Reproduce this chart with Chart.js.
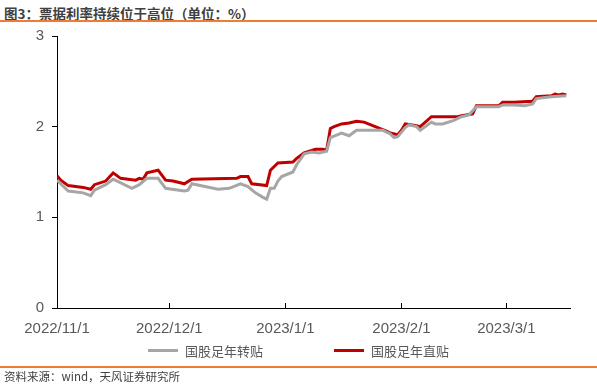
<!DOCTYPE html>
<html>
<head>
<meta charset="utf-8">
<script src="https://cdn.jsdelivr.net/npm/chart.js@4.4.1/dist/chart.umd.min.js"></script>
<style>
  html, body { margin: 0; padding: 0; background: #fff; }
  #wrap { position: relative; width: 597px; height: 387px; overflow: hidden; }
  #chart { position: absolute; left: 0; top: 0; }
  .title {
    position: absolute; left: 4px; top: 3px;
    font: bold 13.5px "Noto Sans CJK SC", sans-serif; color: #404040;
  }
  .rule { position: absolute; left: 0; width: 597px; height: 1.5px; background: #ED7D31; }
  .source {
    position: absolute; left: 4px; top: 368px;
    font: 11.5px "Noto Sans CJK SC", sans-serif; color: #404040;
  }
  .legend {
    position: absolute; top: 341px; font: 13px "Noto Sans CJK SC", sans-serif; color: #595959;
    display: flex; align-items: center;
  }
  .legend i { display: inline-block; width: 30px; height: 3px; margin-right: 7px; }
</style>
</head>
<body>
<div id="wrap">
  <div class="title">图3：票据利率持续位于高位（单位：%）</div>
  <div class="rule" style="top:20px"></div>
  <canvas id="chart" width="597" height="387"></canvas>
  <div class="legend" style="left:148px"><i style="background:#A6A6A6"></i>国股足年转贴</div>
  <div class="legend" style="left:334px"><i style="background:#C00000"></i>国股足年直贴</div>
  <div class="rule" style="top:366px"></div>
  <div class="source">资料来源：wind，天风证券研究所</div>
</div>
<script>
// ---- data ----
const xTickLabels = ['2022/11/1', '2022/12/1', '2023/1/1', '2023/2/1', '2023/3/1'];
const yTicks = [0, 1, 2, 3];

const zhuanDates = [
  '2022/11/1', '2022/11/4', '2022/11/8', '2022/11/10', '2022/11/11', '2022/11/14', '2022/11/16',
  '2022/11/21', '2022/11/23', '2022/11/25', '2022/11/28', '2022/11/30', '2022/12/5', '2022/12/6',
  '2022/12/7', '2022/12/14', '2022/12/17', '2022/12/20', '2022/12/22', '2022/12/24', '2022/12/26',
  '2022/12/27', '2022/12/28', '2022/12/29', '2022/12/30', '2022/12/31', '2023/1/3', '2023/1/4',
  '2023/1/6', '2023/1/8', '2023/1/10', '2023/1/12', '2023/1/13', '2023/1/16', '2023/1/18',
  '2023/1/20', '2023/1/27', '2023/1/29', '2023/1/30', '2023/1/31', '2023/2/2', '2023/2/3',
  '2023/2/5', '2023/2/6', '2023/2/9', '2023/2/10', '2023/2/12', '2023/2/15', '2023/2/17',
  '2023/2/19', '2023/2/21', '2023/2/27', '2023/2/28', '2023/3/3', '2023/3/6', '2023/3/8',
  '2023/3/9', '2023/3/13', '2023/3/17'
];
const zhuanValues = [
  1.41, 1.29, 1.27, 1.24, 1.30, 1.36, 1.42,
  1.32, 1.36, 1.43, 1.43, 1.32, 1.29, 1.30,
  1.37, 1.31, 1.32, 1.37, 1.34, 1.27, 1.22,
  1.20, 1.32, 1.32, 1.40, 1.45, 1.50, 1.58,
  1.70, 1.72, 1.71, 1.73, 1.88, 1.93, 1.90,
  1.96, 1.96, 1.92, 1.88, 1.89, 1.99, 2.02,
  2.00, 1.96, 2.05, 2.03, 2.03, 2.07, 2.11,
  2.13, 2.22, 2.22, 2.24, 2.24, 2.23, 2.25,
  2.31, 2.33, 2.34
];

const zhiDates = [
  '2022/11/1', '2022/11/2', '2022/11/4', '2022/11/8', '2022/11/10', '2022/11/11', '2022/11/14',
  '2022/11/16', '2022/11/18', '2022/11/22', '2022/11/23', '2022/11/24', '2022/11/25', '2022/11/28',
  '2022/11/30', '2022/12/2', '2022/12/5', '2022/12/7', '2022/12/19', '2022/12/20', '2022/12/22',
  '2022/12/23', '2022/12/27', '2022/12/28', '2022/12/30', '2023/1/3', '2023/1/4', '2023/1/6',
  '2023/1/9', '2023/1/11', '2023/1/12', '2023/1/13', '2023/1/14', '2023/1/16', '2023/1/18',
  '2023/1/20', '2023/1/22', '2023/1/28', '2023/1/29', '2023/1/31', '2023/2/1', '2023/2/2',
  '2023/2/5', '2023/2/6', '2023/2/9', '2023/2/16', '2023/2/17', '2023/2/20', '2023/2/21',
  '2023/2/27', '2023/2/28', '2023/3/3', '2023/3/8', '2023/3/9', '2023/3/13', '2023/3/14',
  '2023/3/15', '2023/3/16', '2023/3/17'
];
const zhiValues = [
  1.46, 1.41, 1.35, 1.33, 1.31, 1.36, 1.40,
  1.49, 1.43, 1.41, 1.43, 1.42, 1.49, 1.52,
  1.41, 1.40, 1.37, 1.42, 1.43, 1.45, 1.45,
  1.37, 1.35, 1.52, 1.60, 1.61, 1.65, 1.71,
  1.75, 1.75, 1.74, 1.98, 2.00, 2.03, 2.04,
  2.06, 2.05, 1.95, 1.93, 1.91, 1.96, 2.03,
  2.01, 2.00, 2.11, 2.11, 2.12, 2.14, 2.23,
  2.23, 2.27, 2.27, 2.28, 2.33, 2.34, 2.36,
  2.35, 2.36, 2.35
];

// ---- helpers ----
const startDay = Date.UTC(2022, 10, 1);
const dayOf = (s) => {
  const [y, m, d] = s.split('/').map(Number);
  return (Date.UTC(y, m - 1, d) - startDay) / 86400000;
};
const toPoints = (dates, vals) => dates.map((d, i) => ({ x: dayOf(d), y: vals[i] }));
const xTickValues = xTickLabels.map(dayOf);

const textColor = '#595959';
const tickFont = { family: 'Liberation Sans, Arial, sans-serif', size: 15 };

// x ticks are drawn pointing up into the plot
const innerTicks = {
  id: 'innerTicks',
  afterDraw(chart) {
    const { ctx, chartArea } = chart;
    const xs = chart.scales.x;
    ctx.save();
    ctx.strokeStyle = '#000';
    ctx.lineWidth = 1;
    xTickValues.forEach(v => {
      const px = Math.round(xs.getPixelForValue(v)) + 0.5;
      ctx.beginPath();
      ctx.moveTo(px, chartArea.bottom);
      ctx.lineTo(px, chartArea.bottom - 5);
      ctx.stroke();
    });
    ctx.restore();
  }
};

new Chart(document.getElementById('chart').getContext('2d'), {
  type: 'line',
  data: {
    datasets: [
      {
        label: '国股足年转贴',
        data: toPoints(zhuanDates, zhuanValues),
        borderColor: '#A6A6A6',
        borderWidth: 3,
        pointRadius: 0,
        tension: 0,
      },
      {
        label: '国股足年直贴',
        data: toPoints(zhiDates, zhiValues),
        borderColor: '#C00000',
        borderWidth: 3,
        pointRadius: 0,
        tension: 0,
      }
    ]
  },
  options: {
    responsive: false,
    animation: false,
    layout: { padding: { left: 0, right: 27, top: 36, bottom: 45 } },
    plugins: { legend: { display: false }, tooltip: { enabled: false } },
    scales: {
      x: {
        type: 'linear',
        min: 0,
        max: 137,
        afterBuildTicks: (scale) => { scale.ticks = xTickValues.map(v => ({ value: v })); },
        afterFit: (scale) => { scale.height = 34; },
        ticks: {
          autoSkip: false,
          maxRotation: 0,
          padding: 4,
          color: textColor,
          font: tickFont,
          callback: (v) => xTickLabels[xTickValues.indexOf(v)],
        },
        grid: { display: false },
        border: { display: true, color: '#000', width: 1 },
      },
      y: {
        min: 0,
        max: 3,
        afterBuildTicks: (scale) => { scale.ticks = yTicks.map(v => ({ value: v })); },
        afterFit: (scale) => { scale.width = 57; },
        ticks: { color: textColor, font: tickFont, padding: 8 },
        grid: { drawOnChartArea: false, drawTicks: true, tickLength: 5, color: '#000' },
        border: { display: true, color: '#000', width: 1 },
      }
    }
  },
  plugins: [innerTicks]
});
</script>
</body>
</html>
